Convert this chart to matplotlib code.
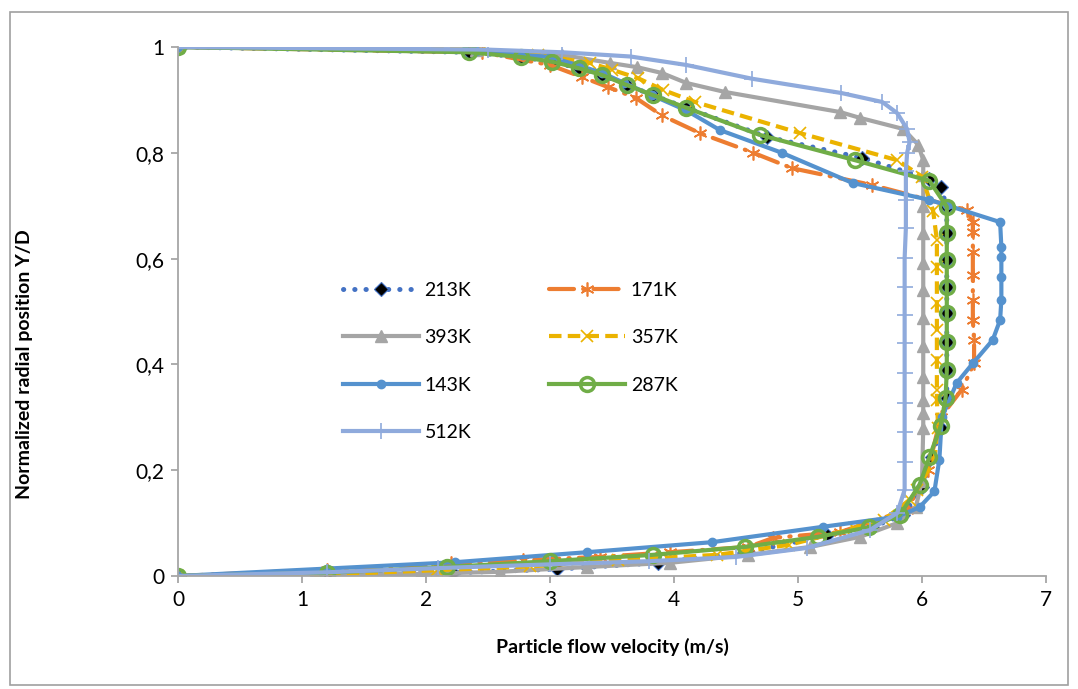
import matplotlib
matplotlib.use("Agg")
import matplotlib.pyplot as plt
from matplotlib.patches import Rectangle

plt.rcParams['font.family'] = ['Lato', 'DejaVu Sans']

# velocity profiles (m/s) against normalized radial position Y/D
v213 = [0, 1.22, 2.22, 3.06, 3.87, 4.6, 5.23, 5.6, 5.85, 6.0, 6.08, 6.15, 6.2, 6.2, 6.2, 6.2, 6.2, 6.2, 6.2, 6.2,
        6.15, 6.06, 5.52, 4.75, 4.1, 3.83, 3.62, 3.42, 3.23, 3.02, 2.77, 2.35, 0]
y213 = [0, 0.002, 0.006, 0.013, 0.025, 0.045, 0.077, 0.093, 0.115, 0.168, 0.225, 0.28, 0.336, 0.389, 0.442, 0.497,
        0.546, 0.597, 0.648, 0.698, 0.735, 0.75, 0.79, 0.83, 0.885, 0.909, 0.928, 0.947, 0.96, 0.972, 0.981, 0.99, 1.0]

v171 = [0, 1.2, 2.2, 2.78, 3.4, 3.97, 4.6, 4.8, 5.34, 5.88, 6.05, 6.15, 6.32, 6.42, 6.42, 6.41, 6.41, 6.41, 6.41,
        6.41, 6.41, 6.36, 5.6, 4.95, 4.64, 4.21, 3.9, 3.69, 3.47, 3.26, 3.0, 2.45, 0]
y171 = [0, 0.012, 0.024, 0.03, 0.036, 0.045, 0.055, 0.072, 0.083, 0.125, 0.2, 0.3, 0.352, 0.402, 0.446, 0.484, 0.522,
        0.569, 0.613, 0.65, 0.67, 0.692, 0.739, 0.771, 0.8, 0.837, 0.871, 0.904, 0.924, 0.943, 0.966, 0.99, 1.0]

v393 = [0, 1.1, 1.95, 2.6, 3.3, 3.97, 4.6, 5.1, 5.5, 5.8, 5.95, 6.0, 6.01, 6.01, 6.01, 6.01, 6.01, 6.01, 6.01, 6.01,
        6.01, 6.01, 6.01, 6.01, 5.97, 5.85, 5.5, 5.34, 4.41, 4.1, 3.9, 3.7, 3.48, 3.1, 2.4, 0]
y393 = [0, 0.002, 0.004, 0.008, 0.017, 0.025, 0.04, 0.055, 0.074, 0.1, 0.13, 0.18, 0.28, 0.308, 0.333, 0.376, 0.434,
        0.488, 0.54, 0.592, 0.648, 0.70, 0.758, 0.786, 0.815, 0.845, 0.866, 0.877, 0.915, 0.932, 0.951, 0.962, 0.97,
        0.985, 0.995, 1.0]

v357 = [0, 1.12, 2.09, 2.84, 3.55, 4.35, 4.93, 5.45, 5.69, 5.9, 5.96, 6.1, 6.13, 6.12, 6.12, 6.12, 6.12, 6.12, 6.12,
        6.12, 6.09, 6.0, 5.8, 5.02, 4.17, 3.91, 3.71, 3.5, 3.32, 2.9, 2.45, 0]
y357 = [0, 0.002, 0.011, 0.018, 0.03, 0.04, 0.059, 0.09, 0.106, 0.144, 0.163, 0.22, 0.28, 0.333, 0.352, 0.408, 0.465,
        0.516, 0.584, 0.635, 0.69, 0.755, 0.786, 0.837, 0.896, 0.919, 0.941, 0.957, 0.97, 0.985, 0.995, 1.0]

v143 = [0, 1.2, 2.23, 3.3, 4.31, 5.2, 5.8, 5.98, 6.1, 6.14, 6.16, 6.28, 6.41, 6.57, 6.63, 6.64, 6.64, 6.64, 6.64,
        6.63, 6.2, 6.06, 5.44, 4.87, 4.37, 4.1, 3.82, 3.6, 3.42, 3.22, 3.0, 2.78, 2.4, 0]
y143 = [0, 0.014, 0.026, 0.045, 0.064, 0.093, 0.112, 0.13, 0.16, 0.22, 0.3, 0.365, 0.402, 0.446, 0.484, 0.522, 0.565,
        0.603, 0.622, 0.669, 0.701, 0.711, 0.743, 0.8, 0.843, 0.88, 0.909, 0.932, 0.951, 0.966, 0.981, 0.985, 0.993,
        1.0]

v287 = [0, 1.2, 2.17, 3.0, 3.83, 4.57, 5.16, 5.57, 5.82, 5.98, 6.06, 6.15, 6.19, 6.2, 6.2, 6.2, 6.2, 6.2, 6.2, 6.2,
        6.06, 5.46, 4.69, 4.1, 3.83, 3.62, 3.42, 3.23, 3.02, 2.77, 2.35, 0]
y287 = [0, 0.006, 0.017, 0.028, 0.04, 0.055, 0.074, 0.092, 0.115, 0.172, 0.225, 0.283, 0.336, 0.389, 0.442, 0.497,
        0.546, 0.597, 0.648, 0.698, 0.747, 0.786, 0.834, 0.885, 0.909, 0.928, 0.947, 0.96, 0.972, 0.981, 0.99, 1.0]

v512 = [0, 1.2, 2.1, 3.0, 3.8, 4.5, 5.07, 5.58, 5.8, 5.86, 5.86, 5.86, 5.86, 5.86, 5.86, 5.86, 5.86, 5.86, 5.87,
        5.87, 5.87, 5.88, 5.9, 5.88, 5.8, 5.68, 5.35, 4.63, 4.1, 3.65, 3.1, 2.5, 0]
y512 = [0, 0.007, 0.015, 0.022, 0.028, 0.036, 0.053, 0.087, 0.119, 0.163, 0.215, 0.272, 0.327, 0.384, 0.44, 0.493,
        0.546, 0.601, 0.658, 0.71, 0.765, 0.80, 0.82, 0.845, 0.875, 0.896, 0.913, 0.94, 0.966, 0.982, 0.99, 0.995, 1.0]

xticks = [0, 1, 2, 3, 4, 5, 6, 7]
yticks = [0, 0.2, 0.4, 0.6, 0.8, 1.0]
ylabels = ['0', '0,2', '0,4', '0,6', '0,8', '1']

fig = plt.figure(figsize=(10.78, 6.89), dpi=100)
ax = fig.add_axes([178 / 1078, 113 / 689, 868 / 1078, 529 / 689])

l213, = ax.plot(v213, y213, color='#4472C4', lw=3.6, ls=(0, (0.05, 2.2)), dash_capstyle='round',
                marker='D', ms=7, mfc='black', mec='#4472C4', mew=0.8, label='213K')
l171, = ax.plot(v171, y171, color='#ED7D31', lw=3, ls=(0, (6, 2.2, 0.3, 2.2)), dash_capstyle='round',
                marker=(6, 2, 0), ms=10, mew=1.2, label='171K')
l393, = ax.plot(v393, y393, color='#A5A5A5', lw=3, marker='^', ms=8, label='393K')
l357, = ax.plot(v357, y357, color='#EBB300', lw=3, ls=(0, (3, 1.5)), marker='x', ms=9, mew=1.2, label='357K')
l143, = ax.plot(v143, y143, color='#5592CE', lw=3, marker='o', ms=6, label='143K')
l287, = ax.plot(v287, y287, color='#70AD47', lw=3, marker='o', ms=10, mfc='none', mew=2.5, label='287K')
l512, = ax.plot(v512, y512, color='#8FAADC', lw=3, marker='+', ms=12, mew=1.2, label='512K')

ax.set_xlim(0, 7)
ax.set_ylim(0, 1)
ax.set_xticks(xticks)
ax.set_yticks(yticks)
ax.set_yticklabels(ylabels)
for s in ['top', 'right']:
    ax.spines[s].set_visible(False)
for s in ['left', 'bottom']:
    ax.spines[s].set_color('#A6A6A6')
    ax.spines[s].set_linewidth(1.3)
ax.tick_params(direction='out', length=5, width=1.3, color='#A6A6A6', labelsize=15, pad=5)

ax.set_xlabel('Particle flow velocity (m/s)', fontsize=14, fontweight='bold', labelpad=20)
ax.set_ylabel('Normalized radial position Y/D', fontsize=14, fontweight='bold')
ax.yaxis.set_label_coords(-0.167, 0.40)

ax.legend(handles=[l213, l393, l143, l512, l171, l357, l287], ncol=2, frameon=False,
          loc='upper left', bbox_to_anchor=(0.19, 0.556), fontsize=14, borderpad=0, borderaxespad=0,
          handlelength=3.9, handletextpad=0.3, columnspacing=4.0, labelspacing=1.56, numpoints=1)

fig.patches.append(Rectangle((10 / 1078, 4 / 689), 1058 / 1078, 673 / 689, transform=fig.transFigure,
                             fill=False, edgecolor='#A0A0A0', lw=1.2))

fig.savefig('out.png', dpi=100)
